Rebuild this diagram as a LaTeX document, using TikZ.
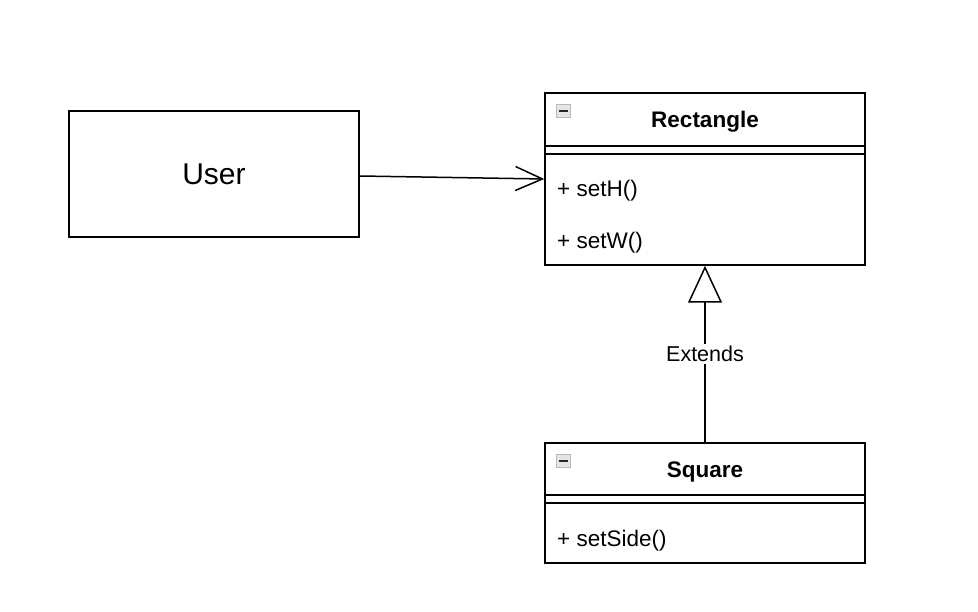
\documentclass[tikz,border=0pt]{standalone}
\usepackage{fontspec}
\setmainfont{Liberation Sans}
\usetikzlibrary{arrows.meta,positioning}

\begin{document}
\begin{tikzpicture}[
  x=1pt, y=-1pt,
  umlline/.style={line width=1.5pt, black},
  plainbox/.style={draw, umlline, minimum width=290pt, minimum height=126pt, font=\fontsize{30}{34}\selectfont},
  classbox/.style={draw, umlline, minimum width=320pt, inner sep=0pt},
  classtitle/.style={font=\fontsize{22.5}{26}\selectfont\bfseries, inner sep=0pt},
  method/.style={anchor=west, inner sep=0pt, font=\fontsize{22.5}{26}\selectfont},
  icon/.style={draw=gray!55, fill=gray!20, line width=1pt, minimum width=14pt, minimum height=13pt, inner sep=0pt},
  assoc/.style={umlline, -{Straight Barb[length=27pt, width=24pt, line width=1.5pt]}},
  extends/.style={umlline, -{Triangle[open, length=37pt, width=34pt, fill=white, line width=1.5pt]}}
]
\useasboundingbox (0,0) rectangle (978,612);

% user
\node[plainbox] (user) at (214,174) {User};

% class Rectangle
\node[classbox, minimum height=172pt] (rect) at (705,179) {};
\node[classtitle] (recttitle) at (705,122) {Rectangle};
\node[icon] (recticon) at (563,111) {};
\draw[gray!30!black, line width=2pt] ([xshift=3pt]recticon.west) -- ([xshift=-3pt]recticon.east);
\draw[umlline] (rect.west |- 0,146) -- (rect.east |- 0,146);
\draw[umlline] (rect.west |- 0,154) -- (rect.east |- 0,154);
\node[method] (seth) at (557,191) {+ setH()};
\node[method] (setw) at (557,243) {+ setW()};

% class Square
\node[classbox, minimum height=120pt] (square) at (705,503) {};
\node[classtitle] (squaretitle) at (705,472) {Square};
\node[icon] (squareicon) at (563,461) {};
\draw[gray!30!black, line width=2pt] ([xshift=3pt]squareicon.west) -- ([xshift=-3pt]squareicon.east);
\draw[umlline] (square.west |- 0,495) -- (square.east |- 0,495);
\draw[umlline] (square.west |- 0,503) -- (square.east |- 0,503);
\node[method] (setside) at (557,541) {+ setSide()};

% connectors
\draw[assoc] ([yshift=-2pt]user.east) -- (rect.west);
\draw[extends] (square.north) -- node[fill=white, inner sep=2pt, font=\fontsize{21.5}{24}\selectfont] (extlabel) {Extends} (rect.south);
\end{tikzpicture}
\end{document}
